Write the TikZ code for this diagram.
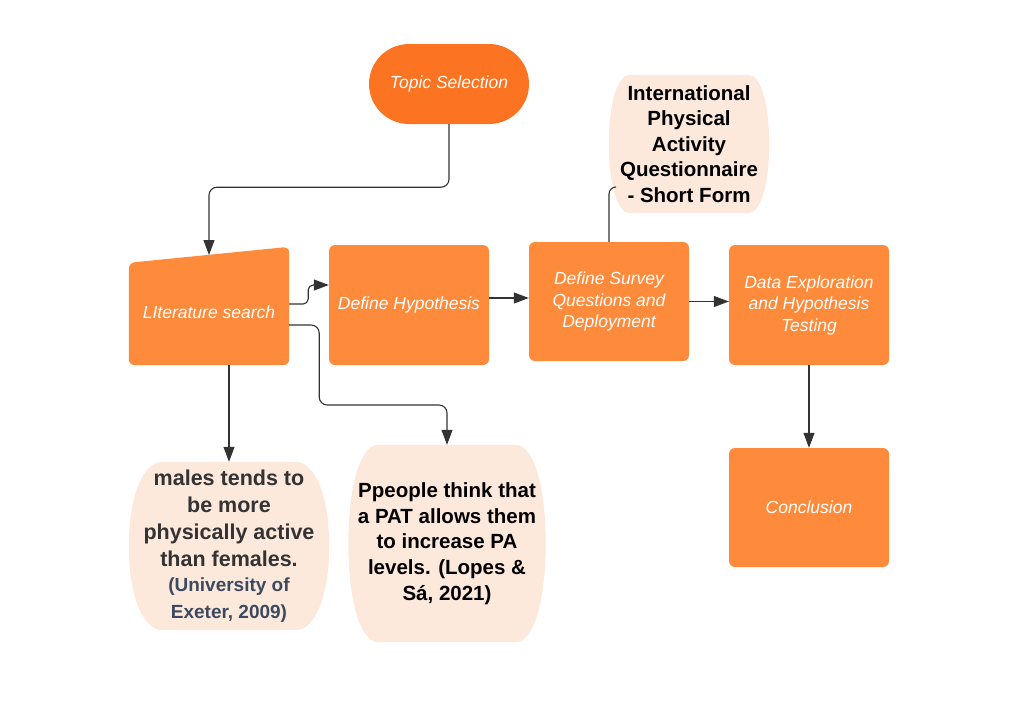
\documentclass[tikz,border=0pt]{standalone}
\usepackage{fontspec}
\setmainfont{Liberation Sans}
\usetikzlibrary{arrows.meta,calc,backgrounds}
\definecolor{topicor}{HTML}{FC7421}
\definecolor{boxor}{HTML}{FE8A3B}
\definecolor{peach}{HTML}{FDE8DC}
\definecolor{lineg}{HTML}{333333}
\definecolor{citeblue}{HTML}{3B4A5E}
\definecolor{malesg}{HTML}{333333}
\newcommand\peachfill[2]{%
 \fill[peach] ([xshift=#2]#1.north west) -- ([xshift=-#2]#1.north east)
 .. controls ([xshift=-0.4*#2]#1.north east) and ($(#1.north east)!0.42!(#1.east)$) .. (#1.east)
 .. controls ($(#1.south east)!0.42!(#1.east)$) and ([xshift=-0.4*#2]#1.south east) .. ([xshift=-#2]#1.south east)
 -- ([xshift=#2]#1.south west)
 .. controls ([xshift=0.4*#2]#1.south west) and ($(#1.south west)!0.42!(#1.west)$) .. (#1.west)
 .. controls ($(#1.north west)!0.42!(#1.west)$) and ([xshift=0.4*#2]#1.north west) .. cycle;}
\newcommand\citeline[1]{{\color{citeblue}\fontsize{19}{24}\selectfont #1}}
\begin{document}
\begin{tikzpicture}[x=1pt,y=-1pt,
 procbox/.style={fill=boxor, rounded corners=6pt, minimum width=160pt, minimum height=119pt, text=white,
   font=\fontsize{17.5}{21.5}\selectfont\itshape, align=center, inner sep=0pt},
 peachbox/.style={inner sep=0pt, align=center},
 conn/.style={draw=lineg, line width=1.1pt, rounded corners=8pt},
 arr/.style={conn, -{Triangle[length=15pt,width=11pt]}},
]
\useasboundingbox (0,0) rectangle (1036,718);

% Topic
\node[fill=topicor, rounded corners=40pt, minimum width=160pt, minimum height=80pt, inner sep=0pt,
  text=white, font=\fontsize{17.5}{21.5}\selectfont\itshape] (topic) at (449,84) {Topic Selection};

% Literature search (slanted top)
\path node[minimum width=160pt, minimum height=118pt, inner sep=0pt] (lit) at (209,306) {};
\fill[boxor, rounded corners=6pt] (lit.south west) -- ([yshift=-16pt]lit.north west) -- (lit.north east) -- (lit.south east) -- cycle;
\node[text=white, font=\fontsize{17.5}{21.5}\selectfont\itshape, inner sep=0pt] (littext) at (209,312) {LIterature search};
\coordinate (litTop) at (209,255);

\node[procbox, minimum height=120pt] (hyp) at (409,305) {\raisebox{3pt}{Define Hypothesis}};
\node[procbox] (survey) at (609,301.5) {Define Survey\\Questions and\\Deployment};
\node[procbox, minimum height=120pt] (data) at (809,305) {Data Exploration\\and Hypothesis\\Testing};
\node[procbox] (concl) at (809,507.5) {Conclusion};

% Peach nodes
\node[peachbox, minimum width=160pt, minimum height=138pt, font=\fontsize{20.5}{25.5}\selectfont\bfseries]
  (ipaq) at (689,144) {International\\Physical\\Activity\\Questionnaire\\- Short Form};
\node[peachbox, minimum width=200pt, minimum height=168pt, text=malesg, font=\fontsize{21.5}{27}\selectfont\bfseries]
  (males) at (229,546) {males tends to\\be more\\physically active\\than females.\\[-2pt]
  \citeline{(University of}\\\citeline{Exeter, 2009)}};
\node[peachbox, minimum width=197pt, minimum height=197pt, font=\fontsize{20.5}{25.8}\selectfont\bfseries]
  (ppl) at (447,543.5) {Ppeople think that\\a PAT allows them\\to increase PA\\levels. (Lopes \&\\Sá, 2021)};
\coordinate (ipaqL) at (616,187);

\begin{scope}[on background layer]
\peachfill{ipaq}{21pt}
\peachfill{males}{34pt}
\peachfill{ppl}{30pt}
\end{scope}

% Connectors
\draw[arr] (topic.south) -- ++(0,63) -| (litTop);
\draw[arr, rounded corners=5pt] ([yshift=2pt]lit.east) -- ++(19,0) |- ([yshift=20pt]hyp.west);
\draw[arr] ([yshift=-19pt]lit.east) -- ++(30,0) -- ++(0,80) -| (ppl.north);
\draw[arr] (males.north |- lit.south) -- (males.north);
\draw[arr] ([yshift=7pt]hyp.east) -- ([yshift=7pt]hyp.east -| survey.west);
\draw[arr] (survey.east) -- (survey.east -| data.west);
\draw[arr] (data.south) -- (concl.north);
\draw[conn, rounded corners=7pt] (survey.north) |- (ipaqL);
\end{tikzpicture}
\end{document}
